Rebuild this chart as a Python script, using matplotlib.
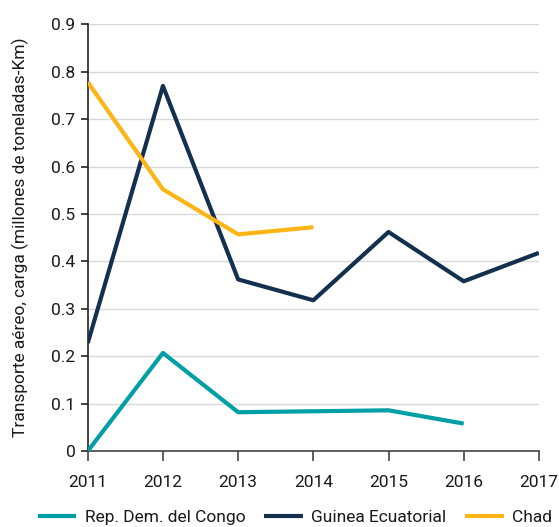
import matplotlib
matplotlib.use("Agg")
import matplotlib.pyplot as plt

plt.rcParams['font.family'] = ['Roboto', 'DejaVu Sans']

years = [2011, 2012, 2013, 2014, 2015, 2016, 2017]
congo_years = [2011, 2012, 2013, 2014, 2015, 2016]
congo = [0.0, 0.207, 0.082, 0.084, 0.086, 0.058]
guinea_years = [2011, 2012, 2013, 2014, 2015, 2016, 2017]
guinea = [0.228, 0.770, 0.362, 0.318, 0.462, 0.358, 0.418]
chad_years = [2011, 2012, 2013, 2014]
chad = [0.778, 0.552, 0.457, 0.472]
yticks = [0, 0.1, 0.2, 0.3, 0.4, 0.5, 0.6, 0.7, 0.8, 0.9]
ytick_labels = ['0', '0.1', '0.2', '0.3', '0.4', '0.5', '0.6', '0.7', '0.8', '0.9']

fig = plt.figure(figsize=(5.59, 5.27), dpi=100)
ax = fig.add_axes([0.157, 0.144, 0.807, 0.810])

lw = 3
ax.plot(congo_years, congo, color='#009FA6', lw=lw, label='Rep. Dem. del Congo', solid_capstyle='butt', zorder=3)
ax.plot(guinea_years, guinea, color='#13304F', lw=lw, label='Guinea Ecuatorial', solid_capstyle='butt', zorder=3)
ax.plot(chad_years, chad, color='#FDB515', lw=lw, label='Chad', solid_capstyle='butt', zorder=3)

ax.set_xlim(2011, 2017)
ax.set_ylim(0, 0.9)
ax.set_xticks(years)
ax.set_xticklabels([str(y) for y in years])
ax.set_yticks(yticks)
ax.set_yticklabels(ytick_labels)

ax.grid(axis='y', color='#D9D9D9', lw=1)
ax.set_axisbelow(True)
for s in ['top', 'right']:
    ax.spines[s].set_visible(False)
ax.spines['left'].set_color('#222222')
ax.spines['bottom'].set_color('#444444')
ax.spines['left'].set_linewidth(1.2)
ax.spines['bottom'].set_linewidth(1.2)
ax.tick_params(axis='x', direction='out', length=7, width=1.2, color='#444444',
               labelsize=12.5, pad=10, labelcolor='#1a1a1a')
ax.tick_params(axis='y', direction='out', length=5, width=1.2, color='#222222',
               labelsize=12.5, pad=4, labelcolor='#1a1a1a')

ax.set_ylabel('Transporte aéreo, carga (millones de toneladas-Km)', fontsize=12.5,
              color='#1a1a1a', labelpad=16)

leg = fig.legend(*ax.get_legend_handles_labels(), loc='center',
                 bbox_to_anchor=(295 / 559, 1 - 517 / 527), ncol=3, frameon=False,
                 fontsize=12.5, handlelength=2.2, handletextpad=0.5, columnspacing=1.1,
                 borderaxespad=0, borderpad=0)
for t in leg.get_texts():
    t.set_color('#1a1a1a')

fig.savefig('out.png', dpi=100)
